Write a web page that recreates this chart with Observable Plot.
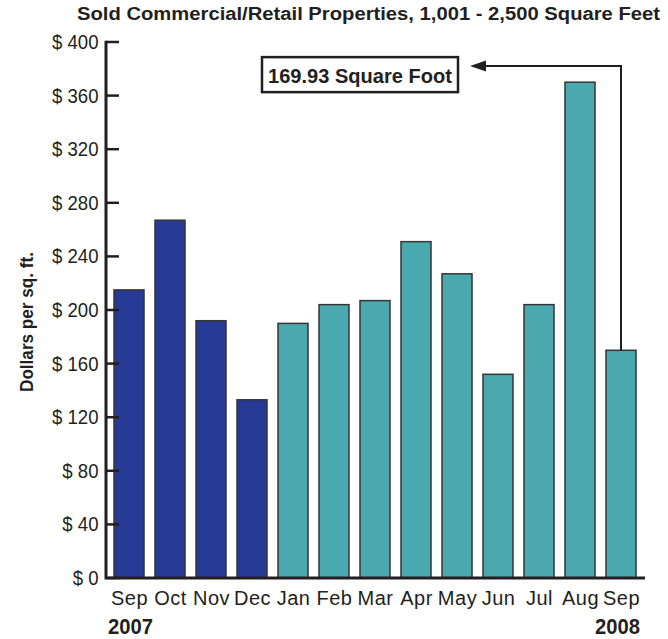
<!DOCTYPE html>
<html><head><meta charset="utf-8">
<script src="https://cdn.jsdelivr.net/npm/d3@7"></script>
<script src="https://cdn.jsdelivr.net/npm/@observablehq/plot@0.6"></script>
<style>
body{margin:0;background:#fff;}
#title{position:relative;height:26px;width:668px;overflow:visible;}
#title span{position:absolute;left:77px;top:4px;font:bold 18px 'Liberation Sans',Arial,sans-serif;line-height:21px;white-space:nowrap;color:#231f20;transform-origin:0 50%;}
g[aria-label="x-axis tick label"] text{letter-spacing:0.5px;}
</style></head><body>
<div id="title"><span id="titleText"></span></div>
<div id="chart"></div>
<script>
// ---- data ----
const months = ["Sep","Oct","Nov","Dec","Jan","Feb","Mar","Apr","May","Jun","Jul","Aug","Sep"];
const years  = ["2007","2007","2007","2007","2008","2008","2008","2008","2008","2008","2008","2008","2008"];
const values = [215, 267, 192, 133, 190, 204, 207, 251, 227, 152, 204, 370, 169.93];
const yTicks = [0, 40, 80, 120, 160, 200, 240, 280, 320, 360, 400];
const titleText = "Sold Commercial/Retail Properties, 1,001 - 2,500 Square Feet";
const yLabel = "Dollars per sq. ft.";
const annotationText = "169.93 Square Foot";
const highlightIndex = 12;

const data = months.map((m, i) => ({key: m + " " + years[i], month: m, year: years[i], value: values[i]}));
const FONT = "'Liberation Sans',Arial,sans-serif";
const INK = "#231f20";

// title, condensed to reference width
const ts = document.getElementById("titleText");
ts.textContent = titleText;
const tw = ts.getBoundingClientRect().width;
ts.style.transform = `scaleX(${583 / tw})`;

function decorations(index, scales, vals, dimensions) {
  const {x, y} = scales;
  const {marginLeft, marginRight, width} = dimensions;
  const g = d3.create("svg:g");
  const x0 = marginLeft - 1, x1 = width - marginRight + 2;
  const yb = y(0), yt = y(400);
  // y ticks (inward)
  g.selectAll("line.tk").data(yTicks).join("line")
    .attr("x1", x0).attr("x2", x0 + 13)
    .attr("y1", d => y(d)).attr("y2", d => y(d))
    .attr("stroke", INK).attr("stroke-width", 2.5);
  // axis lines
  g.append("path").attr("d", `M${x0},${yt - 1.2}V${yb}H${x1}`)
    .attr("fill", "none").attr("stroke", INK).attr("stroke-width", 3);
  // year labels
  g.append("text").attr("x", marginLeft + 1).attr("y", yb + 56)
    .attr("text-anchor", "start").attr("font-weight", "bold").attr("font-size", 22)
    .attr("font-family", FONT).attr("fill", INK)
    .attr("textLength", 45).attr("lengthAdjust", "spacingAndGlyphs").text(years[0]);
  g.append("text").attr("x", width - marginRight - 48).attr("y", yb + 56)
    .attr("text-anchor", "start").attr("font-weight", "bold").attr("font-size", 22)
    .attr("font-family", FONT).attr("fill", INK)
    .attr("textLength", 45).attr("lengthAdjust", "spacingAndGlyphs").text(years[years.length - 1]);
  // y label
  g.append("text").attr("transform", `translate(26,${(yt + yb) / 2 + 12}) rotate(-90)`)
    .attr("text-anchor", "middle").attr("dominant-baseline", "central")
    .attr("font-weight", "bold").attr("font-size", 19).attr("font-family", FONT)
    .attr("textLength", 140).attr("lengthAdjust", "spacingAndGlyphs")
    .attr("fill", INK).text(yLabel);
  // annotation
  const bw = x.bandwidth ? x.bandwidth() : 30;
  const d = data[highlightIndex];
  const bx = x(d.key) + bw / 2;
  const ay = y(382);
  const tip = 470;
  const boxTop = ay - 9;
  g.append("path").attr("d", `M${bx},${y(d.value)}V${ay}H${tip + 14}`)
    .attr("fill", "none").attr("stroke", INK).attr("stroke-width", 2);
  g.append("path").attr("d", `M${tip},${ay}L${tip + 16},${ay - 5.5}L${tip + 16},${ay + 5.5}Z`)
    .attr("fill", INK);
  g.append("rect").attr("x", 262).attr("y", boxTop).attr("width", 196).attr("height", 35)
    .attr("fill", "#fff").attr("stroke", INK).attr("stroke-width", 2.5);
  g.append("text").attr("x", 268).attr("y", boxTop + 18).attr("text-anchor", "start")
    .attr("dominant-baseline", "central").attr("font-weight", "bold").attr("font-size", 21)
    .attr("font-family", FONT).attr("fill", INK)
    .attr("textLength", 184).attr("lengthAdjust", "spacingAndGlyphs").text(annotationText);
  return g.node();
}

const chart = Plot.plot({
  width: 668,
  height: 613,
  marginTop: 16,
  marginBottom: 61,
  marginLeft: 107,
  marginRight: 25,
  style: {fontFamily: FONT, fontSize: "19px", color: INK, background: "#fff"},
  x: {domain: data.map(d => d.key), paddingInner: 0.27, paddingOuter: 0.12},
  y: {domain: [0, 400]},
  color: {domain: ["2007", "2008"], range: ["#263a96", "#4aa9af"]},
  marks: [
    Plot.barY(data, {x: "key", y: "value", fill: "year", stroke: "#353535", strokeWidth: 1.5}),
    Plot.axisY({ticks: yTicks, tickSize: 0, tickPadding: 9, tickFormat: d => "$ " + d, label: null, fontSize: 20}),
    Plot.axisX({tickSize: 0, tickPadding: 12, tickFormat: k => k.split(" ")[0], label: null, fontSize: 20}),
    decorations
  ]
});
document.getElementById("chart").appendChild(chart);
// condense y tick labels slightly, like the reference typeface
chart.querySelectorAll('g[aria-label="y-axis tick label"] text').forEach(t => {
  const L = t.getComputedTextLength();
  t.setAttribute("textLength", L * 0.93);
  t.setAttribute("lengthAdjust", "spacingAndGlyphs");
});
</script>
</body></html>
